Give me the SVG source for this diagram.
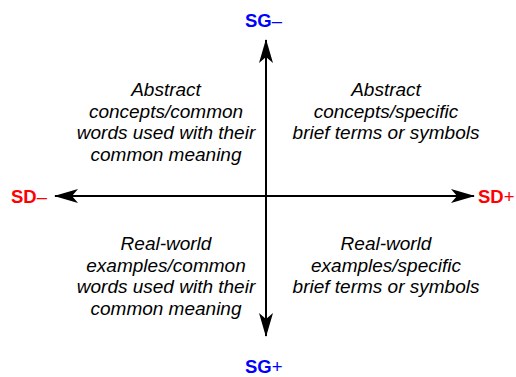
<svg xmlns="http://www.w3.org/2000/svg" width="516" height="377" viewBox="0 0 516 377">
<style>
.q{font-family:"Liberation Sans",Arial,sans-serif;font-style:italic;font-size:19px;fill:#000;text-anchor:middle}
.sg{font-family:"Liberation Sans",Arial,sans-serif;font-weight:bold;font-size:18.5px;fill:#0000ff}
.sd{font-family:"Liberation Sans",Arial,sans-serif;font-weight:bold;font-size:18.5px;fill:#ff0000}
.ax{stroke:#000;stroke-width:2;fill:none}
</style>
<defs>
<marker id="ah" viewBox="0 0 24 14" refX="23" refY="7" markerWidth="24" markerHeight="14" markerUnits="userSpaceOnUse" orient="auto">
<path d="M0,0 L24,7 L0,14 L6,7 Z" fill="#000"/>
</marker>
</defs>
<rect width="516" height="377" fill="#fff"/>
<g id="connectors">
<line class="ax" x1="266" y1="196" x2="266" y2="40" marker-end="url(#ah)"/>
<line class="ax" x1="266" y1="196" x2="266" y2="336" marker-end="url(#ah)"/>
<line class="ax" x1="266" y1="196" x2="55" y2="196" marker-end="url(#ah)"/>
<line class="ax" x1="266" y1="196" x2="474" y2="196" marker-end="url(#ah)"/>
</g>
<g id="sg-minus"><text class="sg" x="245" y="27">SG<tspan font-weight="normal">–</tspan></text></g>
<g id="sg-plus"><text class="sg" x="245" y="373">SG<tspan font-weight="normal">+</tspan></text></g>
<g id="sd-minus"><text class="sd" x="11" y="203">SD<tspan font-weight="normal">–</tspan></text></g>
<g id="sd-plus"><text class="sd" x="478" y="203">SD<tspan font-weight="normal">+</tspan></text></g>
<g id="q-upper-left">
<text class="q" x="166" y="96">Abstract</text>
<text class="q" x="166" y="117.5">concepts/common</text>
<text class="q" x="166" y="139">words used with their</text>
<text class="q" x="166" y="160.5">common meaning</text>
</g>
<g id="q-upper-right">
<text class="q" x="386" y="96">Abstract</text>
<text class="q" x="386" y="117.5">concepts/specific</text>
<text class="q" x="386" y="139">brief terms or symbols</text>
</g>
<g id="q-lower-left">
<text class="q" x="166" y="250">Real-world</text>
<text class="q" x="166" y="271.5">examples/common</text>
<text class="q" x="166" y="293">words used with their</text>
<text class="q" x="166" y="314.5">common meaning</text>
</g>
<g id="q-lower-right">
<text class="q" x="386" y="250">Real-world</text>
<text class="q" x="386" y="271.5">examples/specific</text>
<text class="q" x="386" y="293">brief terms or symbols</text>
</g>
</svg>
